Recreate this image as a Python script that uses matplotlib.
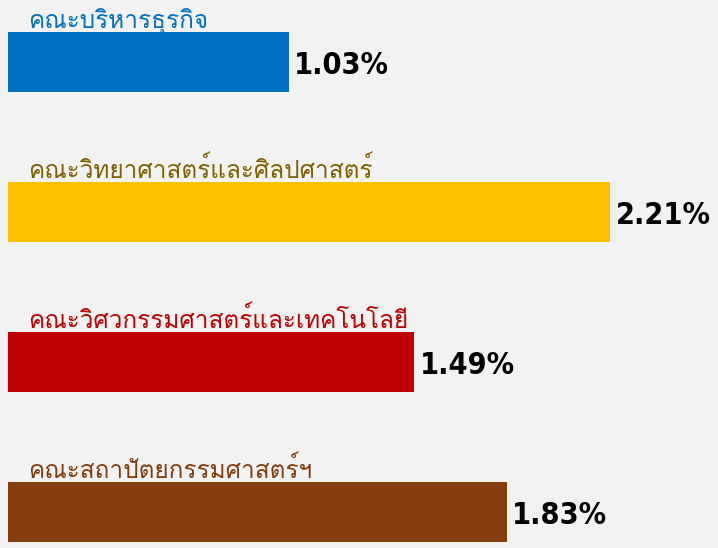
import matplotlib
matplotlib.use("Agg")
import matplotlib.pyplot as plt
from matplotlib import font_manager
from matplotlib.ft2font import FT2Font

# data
faculties = ["คณะบริหารธุรกิจ",
             "คณะวิทยาศาสตร์และศิลปศาสตร์",
             "คณะวิศวกรรมศาสตร์และเทคโนโลยี",
             "คณะสถาปัตยกรรมศาสตร์ฯ"]
rates = [1.03, 2.21, 1.49, 1.83]
bar_colors = ["#0070C0", "#FFC000", "#C00000", "#843C0C"]
label_colors = ["#0070C0", "#7F6000", "#C00000", "#843C0C"]

# find a font that has Thai glyphs
thai_font = None
for f in font_manager.fontManager.ttflist:
    try:
        if 0x0E04 in FT2Font(f.fname).get_charmap():
            thai_font = f.name
            break
    except Exception:
        pass
fams = [thai_font, "DejaVu Sans"] if thai_font else ["DejaVu Sans"]

# narrow bold font for the numbers
names = set(f.name for f in font_manager.fontManager.ttflist)
if "Liberation Sans Narrow" in names:
    num_font = dict(family="Liberation Sans Narrow", fontsize=27)
else:
    num_font = dict(family="DejaVu Sans", fontstretch="condensed", fontsize=22)

fig = plt.figure(figsize=(7.18, 5.48), dpi=100)
fig.patch.set_facecolor("#f2f2f2")
ax = fig.add_axes([0, 0, 1, 1])
ax.set_facecolor("#f2f2f2")

ypos = list(range(len(rates)))
ax.barh(ypos, rates, height=0.4, color=bar_colors, left=0)

for i in ypos:
    ax.text(0.073, i - 0.23, faculties[i], color=label_colors[i], fontsize=17.5,
            family=fams, va="baseline", ha="left")
    ax.text(rates[i] + 0.02, i + 0.02, "%.2f%%" % rates[i], color="black",
            fontweight="bold", va="center", ha="left", **num_font)

ax.set_xlim(-8 / 272.5, 710 / 272.5)
ax.set_ylim(3.24, -0.4167)
ax.axis("off")

fig.savefig("out.png", dpi=100, facecolor=fig.get_facecolor())
